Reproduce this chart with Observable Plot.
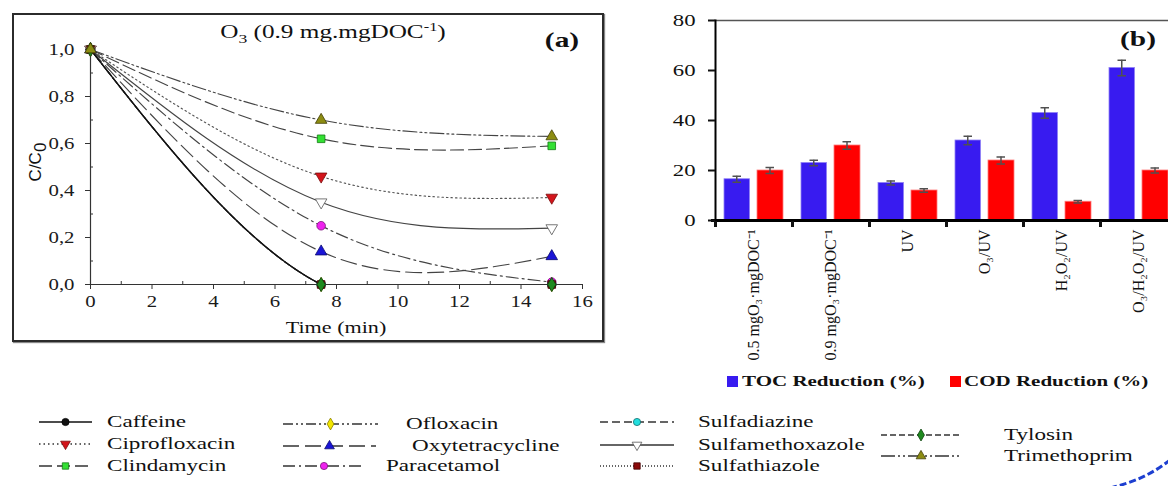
<!DOCTYPE html>
<html><head><meta charset="utf-8">
<script src="https://cdn.jsdelivr.net/npm/d3@7"></script>
<script src="https://cdn.jsdelivr.net/npm/@observablehq/plot@0.6"></script>
<style>
body{margin:0;background:#fff}
#root{position:relative;width:1168px;height:486px;overflow:hidden;font-family:"Liberation Serif","Times New Roman",serif;color:#111;background:#fff}
.abs{position:absolute;white-space:nowrap;line-height:1}
</style></head><body><div id="root"></div>
<script>
const S = 1.4; // horizontal stretch of the original raster's text

// ---------- Panel (a) data ----------
const timeMin = [0, 7.5, 15];
const caffeine         = [1, 0.00, 0.00];
const ciprofloxacin    = [1, 0.46, 0.37];
const clindamycin      = [1, 0.62, 0.59];
const ofloxacin        = [1, 0.00, 0.00];
const oxytetracycline  = [1, 0.14, 0.12];
const paracetamol      = [1, 0.25, 0.01];
const sulfadiazine     = [1, 0.00, 0.00];
const sulfamethoxazole = [1, 0.35, 0.24];
const sulfathiazole    = [1, 0.00, 0.00];
const tylosin          = [1, 0.00, 0.00];
const trimethoprim     = [1, 0.70, 0.63];
const xTicksA = [0, 2, 4, 6, 8, 10, 12, 14, 16];
const xMinorA = [1, 3, 5, 7, 9, 11, 13, 15];
const yTicksA = [0, 0.2, 0.4, 0.6, 0.8, 1.0];
const yMinorA = [0.1, 0.3, 0.5, 0.7, 0.9];

// ---------- Panel (b) data ----------
const treatments = ["0.5 mgO\u2083\u00b7mgDOC\u207b\u00b9", "0.9 mgO\u2083\u00b7mgDOC\u207b\u00b9", "UV", "O\u2083/UV", "H\u2082O\u2082/UV", "O\u2083/H\u2082O\u2082/UV"];
const tocReduction = [16.5, 23, 15, 32, 43, 61];
const tocError     = [1.2, 1.1, 0.8, 1.7, 2.1, 3.1];
const codReduction = [20, 30, 12, 24, 7.5, 20];
const codError     = [1.2, 1.5, 0.7, 1.4, 0.5, 1.0];
const yTicksB = [0, 20, 40, 60, 80];

const compounds = [
  {name: "Caffeine", values: caffeine, stroke: "#111", dash: null, symbol: "circle", fill: "#111", mstroke: "#000", rotate: 0},
  {name: "Ciprofloxacin", values: ciprofloxacin, stroke: "#555", dash: "1.5,3", symbol: "triangle", fill: "#d3141b", mstroke: "#7a0a0a", rotate: 180},
  {name: "Clindamycin", values: clindamycin, stroke: "#444", dash: "13,5", symbol: "square", fill: "#33e033", mstroke: "#137a13", rotate: 0},
  {name: "Ofloxacin", values: ofloxacin, stroke: "#444", dash: "10,3,2,3,2,3", symbol: "diamond", fill: "#f3e600", mstroke: "#8a8000", rotate: 0},
  {name: "Oxytetracycline", values: oxytetracycline, stroke: "#444", dash: "16,6", symbol: "triangle", fill: "#1a14d6", mstroke: "#0a0a70", rotate: 0},
  {name: "Paracetamol", values: paracetamol, stroke: "#444", dash: "12,4,2,4", symbol: "circle", fill: "#ee22ee", mstroke: "#7a107a", rotate: 0},
  {name: "Sulfadiazine", values: sulfadiazine, stroke: "#444", dash: "8,4", symbol: "circle", fill: "#22dede", mstroke: "#107070", rotate: 0},
  {name: "Sulfamethoxazole", values: sulfamethoxazole, stroke: "#444", dash: null, symbol: "triangle", fill: "#fff", mstroke: "#555", rotate: 180},
  {name: "Sulfathiazole", values: sulfathiazole, stroke: "#555", dash: "1,2", symbol: "square", fill: "#8b0b0b", mstroke: "#400", rotate: 0},
  {name: "Tylosin", values: tylosin, stroke: "#444", dash: "6,3", symbol: "diamond", fill: "#1f8a1f", mstroke: "#0b400b", rotate: 0},
  {name: "Trimethoprim", values: trimethoprim, stroke: "#444", dash: "14,3,2,3,2,3", symbol: "triangle", fill: "#8c8c12", mstroke: "#444008", rotate: 0}
];

const root = document.getElementById("root");

// stretch non-rotated SVG texts horizontally about their own anchor
function stretchText(svg, s) {
  svg.querySelectorAll("text").forEach(t => {
    const tr = t.getAttribute("transform") || "";
    if (/rotate/.test(tr)) return;
    const X = parseFloat(t.getAttribute("x")) || 0;
    t.setAttribute("transform", `${tr} translate(${X},0) scale(${s},1) translate(${-X},0)`);
  });
}
function place(el, left, top) {
  el.style.position = "absolute"; el.style.left = left + "px"; el.style.top = top + "px";
  root.appendChild(el); return el;
}
function label(html, x, y, {size = 16, weight = "normal", align = "left", s = S, family = null} = {}) {
  const d = document.createElement("div");
  d.className = "abs";
  d.innerHTML = html;
  d.style.fontSize = size + "px";
  d.style.fontWeight = weight;
  if (family) d.style.fontFamily = family;
  if (align === "center") { d.style.transformOrigin = "50% 50%"; d.style.transform = `translate(-50%,-50%) scaleX(${s})`; }
  else { d.style.transformOrigin = "0 50%"; d.style.transform = `translateY(-50%) scaleX(${s})`; }
  return place(d, x, y);
}

// ---------- Panel (a) ----------
const fmtComma = d => d.toFixed(1).replace(".", ",");
const lineMarks = [], dotMarks = [];
compounds.forEach(c => {
  const rows = timeMin.map((t, i) => ({t, v: c.values[i]}));
  c.rows = rows;
  dotMarks.push(Plot.dot(rows, {x: "t", y: "v", symbol: c.symbol, r: 4.3, fill: c.fill, stroke: c.mstroke, strokeWidth: 0.8, rotate: c.rotate}));
});
compounds.slice().reverse().forEach(c => {
  lineMarks.push(Plot.line(c.rows, {x: "t", y: "v", curve: "natural", stroke: c.stroke, strokeWidth: c.name === "Caffeine" ? 1.3 : 1.15, strokeDasharray: c.dash, clip: true}));
});

const plotA = Plot.plot({
  width: 592, height: 329,
  marginLeft: 78, marginRight: 22, marginTop: 36, marginBottom: 58,
  style: {fontFamily: "'Liberation Serif', serif", fontSize: "16px", color: "#1a1a1a", background: "transparent", overflow: "visible"},
  x: {domain: [0, 16], label: null},
  y: {domain: [0, 1], label: null},
  marks: [
    Plot.axisX({ticks: xTicksA, tickSize: 5, tickPadding: 6, tickFormat: d => String(d), label: null, stroke: "#333"}),
    Plot.axisX({ticks: xMinorA, tickSize: 3, text: null, dy: -3, label: null, stroke: "#333"}),
    Plot.axisY({ticks: yTicksA, tickSize: 5, tickPadding: 11, tickFormat: fmtComma, label: null, stroke: "#333"}),
    Plot.axisY({ticks: yMinorA, tickSize: 3, text: null, dx: 3, label: null, stroke: "#333"}),
    ...lineMarks,
    Plot.ruleX([0], {stroke: "#333", strokeWidth: 1.2}),
    Plot.ruleY([0], {stroke: "#333", strokeWidth: 1.2}),
    ...dotMarks
  ]
});
stretchText(plotA, 1.3);
place(plotA, 12, 13);
const frameA = document.createElement("div");
frameA.style.cssText = "width:592px;height:329px;box-sizing:border-box;border:2px solid #2b2b2b;box-shadow:1px 1px 1px #888";
place(frameA, 12, 13);
label("O<sub style='font-size:70%'>3</sub> (0.9 mg.mgDOC<sup style='font-size:65%'>-1</sup>)", 333, 34, {size: 18, align: "center"});
label("(a)", 562, 40, {size: 21, weight: "bold", align: "center"});
label("Time (min)", 336, 327, {size: 17, align: "center", s: 1.3});
const yl = document.createElement("div");
yl.className = "abs";
yl.innerHTML = "C/C<sub style='font-size:100%;vertical-align:-0.35em'>0</sub>";
yl.style.cssText += ";font-family:'Liberation Sans',Arial,sans-serif;font-size:17px;transform:translate(-50%,-50%) rotate(-90deg);transform-origin:50% 50%";
place(yl, 38, 162);

// ---------- Panel (b) ----------
const rowsB = treatments.map((tr, i) => ({tr, toc: tocReduction[i], tocE: tocError[i], cod: codReduction[i], codE: codError[i]}));
const plotB = Plot.plot({
  width: 557, height: 370,
  marginLeft: 95, marginRight: 0, marginTop: 20, marginBottom: 150,
  style: {fontFamily: "'Liberation Serif', serif", fontSize: "16px", color: "#111", background: "transparent", overflow: "visible"},
  x: {domain: treatments, padding: 0, label: null},
  y: {domain: [0, 80], label: null},
  marks: [
    Plot.ruleY([80], {stroke: "#555", strokeWidth: 1.4}),
    Plot.barY(rowsB, {x: "tr", y: "toc", fill: "#381bf0", stroke: "#8f80f6", strokeWidth: 0.8, insetLeft: 9, insetRight: 42.5}),
    Plot.barY(rowsB, {x: "tr", y: "cod", fill: "#ff0000", stroke: "#ff7a7a", strokeWidth: 0.8, insetLeft: 42, insetRight: 9}),
    Plot.barY(rowsB, {x: "tr", y1: d => d.toc - d.tocE, y2: d => d.toc + d.tocE, fill: "#505050", insetLeft: 21, insetRight: 54.5}),
    Plot.tickY(rowsB, {x: "tr", y: d => d.toc - d.tocE, stroke: "#505050", strokeWidth: 1.5, insetLeft: 17.5, insetRight: 51}),
    Plot.tickY(rowsB, {x: "tr", y: d => d.toc + d.tocE, stroke: "#505050", strokeWidth: 1.5, insetLeft: 17.5, insetRight: 51}),
    Plot.barY(rowsB, {x: "tr", y1: d => d.cod - d.codE, y2: d => d.cod + d.codE, fill: "#505050", insetLeft: 54.25, insetRight: 21.25}),
    Plot.tickY(rowsB, {x: "tr", y: d => d.cod - d.codE, stroke: "#505050", strokeWidth: 1.5, insetLeft: 50.5, insetRight: 18}),
    Plot.tickY(rowsB, {x: "tr", y: d => d.cod + d.codE, stroke: "#505050", strokeWidth: 1.5, insetLeft: 50.5, insetRight: 18}),
    Plot.frame({anchor: "left", stroke: "#000", strokeWidth: 2}),
    Plot.ruleY([0], {stroke: "#000", strokeWidth: 3, insetLeft: -4}),
    Plot.axisY({ticks: yTicksB, tickSize: 7, tickPadding: 13, strokeWidth: 2, fontSize: 17.5, label: null}),
    Plot.axisX({tickSize: 6, strokeWidth: 3, text: null, dx: -38.5, dy: 1, label: null}),
    Plot.axisX({tickSize: 6, strokeWidth: 3, text: null, dx: 38.5, dy: 1, label: null}),
    Plot.axisX({tickSize: 0, tickPadding: 9, tickRotate: -90, fontSize: 16, label: null})
  ]
});
stretchText(plotB, 1.3);
place(plotB, 620, 0);
label("(b)", 1138, 39, {size: 21, weight: "bold", align: "center"});

// legend (b)
function sq(color, x, y) {
  const d = document.createElement("div");
  d.style.cssText = `width:11px;height:11px;background:${color}`;
  return place(d, x, y - 5);
}
sq("#381bf0", 727, 381);
label("TOC Reduction (%)", 742, 381, {size: 15, weight: "bold"});
sq("#ff0000", 950, 381);
label("COD Reduction (%)", 964, 381, {size: 15, weight: "bold"});

// ---------- Legend (a) ----------
const legendPos = {
  "Caffeine": [39, 92, 107, 422],
  "Ciprofloxacin": [39, 92, 107, 444],
  "Clindamycin": [39, 92, 107, 466],
  "Ofloxacin": [283, 378, 406, 424],
  "Oxytetracycline": [283, 376, 412, 446],
  "Paracetamol": [283, 365, 386, 466],
  "Sulfadiazine": [600, 674, 698, 422],
  "Sulfamethoxazole": [600, 674, 698, 445],
  "Sulfathiazole": [600, 674, 698, 466],
  "Tylosin": [881, 961, 1004, 435],
  "Trimethoprim": [881, 961, 1004, 456]
};
const symGen = {circle: d3.symbolCircle, triangle: d3.symbolTriangle, square: d3.symbolSquare, diamond: d3.symbolDiamond};
compounds.forEach(c => {
  const [x0, x1, tx, cy] = legendPos[c.name];
  const w = x1 - x0;
  const svg = d3.create("svg").attr("width", w).attr("height", 14);
  svg.append("line").attr("x1", 0).attr("x2", w).attr("y1", 7).attr("y2", 7)
    .attr("stroke", c.name === "Caffeine" ? "#111" : "#333").attr("stroke-width", 1.7).attr("stroke-dasharray", c.dash || null);
  svg.append("path").attr("d", d3.symbol(symGen[c.symbol], Math.PI * 3.6 * 3.6)())
    .attr("transform", `translate(${w / 2},7) rotate(${c.rotate})`)
    .attr("fill", c.fill).attr("stroke", c.mstroke).attr("stroke-width", 0.8);
  place(svg.node(), x0, cy - 7);
  label(c.name, tx, cy, {size: 16.5});
});

// decorative page border arc (bottom-right corner of the source page)
const arc = d3.create("svg").attr("width", 60).attr("height", 40);
arc.append("path").attr("d", "M0,40 Q35,32 60,12").attr("fill", "none")
  .attr("stroke", "#1d3fd0").attr("stroke-width", 3).attr("stroke-dasharray", "7,3");
place(arc.node(), 1110, 448);
</script></body></html>
